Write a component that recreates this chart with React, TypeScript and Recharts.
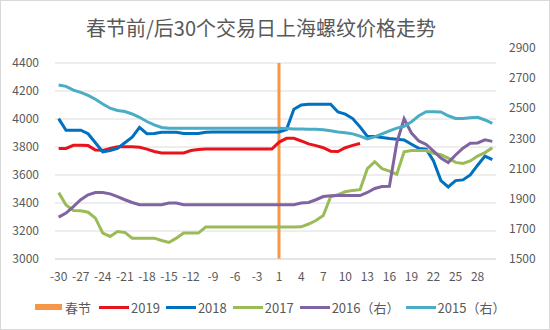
import React from 'react'
import {
  ComposedChart,
  Line,
  Bar,
  XAxis,
  YAxis,
  CartesianGrid,
  Legend,
} from 'recharts'

const FONT = '"Noto Sans CJK SC", "Noto Sans", sans-serif'
const TEXT = '#595959'

// trading days around Spring Festival (no day 0)
const days = [
  -30, -29, -28, -27, -26, -25, -24, -23, -22, -21, -20, -19, -18, -17, -16,
  -15, -14, -13, -12, -11, -10, -9, -8, -7, -6, -5, -4, -3, -2, -1,
  1, 2, 3, 4, 5, 6, 7, 8, 9, 10, 11, 12, 13, 14, 15,
  16, 17, 18, 19, 20, 21, 22, 23, 24, 25, 26, 27, 28, 29, 30,
]

const springFestivalDay = 1
const springFestivalValue = 4400

const y2019 = [
  3790, 3790, 3812, 3813, 3810, 3778, 3776, 3790, 3801, 3801, 3801, 3798, 3785, 3768, 3758,
  3758, 3758, 3758, 3775, 3782, 3785, 3785, 3785, 3785, 3785, 3785, 3785, 3785, 3785, 3785,
  3835, 3862, 3862, 3843, 3822, 3810, 3795, 3770, 3768, 3795, 3812, 3825,
]

const y2018 = [
  4003, 3920, 3920, 3920, 3895, 3830, 3765, 3775, 3790, 3830, 3870, 3940, 3895, 3897, 3905,
  3905, 3905, 3897, 3897, 3897, 3905, 3908, 3908, 3908, 3908, 3908, 3908, 3908, 3908, 3908,
  3908, 3925, 4070, 4100, 4105, 4105, 4105, 4105, 4050, 4035, 4003, 3944, 3875, 3875, 3868,
  3860, 3855, 3850, 3820, 3790, 3785, 3700, 3560, 3515, 3560, 3565, 3600, 3670, 3735, 3710,
]

const y2017 = [
  3474, 3386, 3346, 3344, 3334, 3292, 3185, 3161, 3196, 3190, 3149, 3149, 3149, 3149, 3132,
  3118, 3149, 3185, 3185, 3185, 3228, 3228, 3228, 3228, 3228, 3228, 3228, 3228, 3228, 3228,
  3228, 3228, 3228, 3230, 3250, 3275, 3310, 3445, 3460, 3480, 3490, 3495, 3645, 3695, 3645,
  3628, 3605, 3765, 3775, 3775, 3775, 3755, 3745, 3720, 3690, 3683, 3700, 3735, 3760, 3795,
]

// right axis
const y2016 = [
  1778, 1805, 1848, 1893, 1926, 1941, 1941, 1932, 1914, 1893, 1875, 1860, 1860, 1860, 1860,
  1871, 1871, 1860, 1860, 1860, 1860, 1860, 1860, 1860, 1860, 1860, 1860, 1860, 1860, 1860,
  1860, 1860, 1860, 1871, 1875, 1893, 1914, 1920, 1921, 1921, 1921, 1921, 1941, 1968, 1981,
  1983, 2270, 2430, 2335, 2283, 2260, 2215, 2170, 2140, 2190, 2235, 2268, 2270, 2290, 2280,
]

const y2015 = [
  2654, 2645, 2620, 2605, 2585, 2560, 2528, 2500, 2485, 2478, 2462, 2440, 2412, 2390, 2372,
  2367, 2367, 2367, 2367, 2367, 2367, 2367, 2367, 2367, 2367, 2367, 2367, 2367, 2367, 2367,
  2367, 2365, 2363, 2362, 2361, 2360, 2357, 2350, 2342, 2337, 2330, 2315, 2296, 2310, 2330,
  2350, 2368, 2380, 2410, 2450, 2477, 2477, 2475, 2450, 2432, 2432, 2437, 2440, 2422, 2400,
]

const leftTicks = [3000, 3200, 3400, 3600, 3800, 4000, 4200, 4400]
const rightTicks = [1500, 1700, 1900, 2100, 2300, 2500, 2700, 2900]

const data = days.map((d, i) => ({
  day: d,
  spring: d === springFestivalDay ? springFestivalValue : null,
  y2019: y2019[i] ?? null,
  y2018: y2018[i],
  y2017: y2017[i],
  y2016: y2016[i],
  y2015: y2015[i],
}))

const series = [
  { key: 'y2019', name: '2019', color: '#E8141B', axis: 'left' },
  { key: 'y2018', name: '2018', color: '#0070C0', axis: 'left' },
  { key: 'y2017', name: '2017', color: '#9BBB59', axis: 'left' },
  { key: 'y2016', name: '2016（右）', color: '#8064A2', axis: 'right' },
  { key: 'y2015', name: '2015（右）', color: '#4BACC6', axis: 'right' },
]

const renderLegend = () => (
  <div
    style={{
      display: 'flex',
      alignItems: 'center',
      height: 20,
      paddingLeft: 35,
      fontFamily: FONT,
      fontSize: 13,
      color: TEXT,
      whiteSpace: 'nowrap',
    }}
  >
    <span style={{ display: 'flex', alignItems: 'center', marginRight: 8 }}>
      <span style={{ width: 27, height: 6, background: '#F79646', marginRight: 3 }} />
      春节
    </span>
    {series.map((s) => (
      <span key={s.key} style={{ display: 'flex', alignItems: 'center', marginRight: 6 }}>
        <span style={{ width: 30, height: 3, background: s.color, marginRight: 2 }} />
        {s.name}
      </span>
    ))}
  </div>
)

export default function App() {
  return (
    <div
      style={{
        position: 'absolute',
        left: 0,
        top: 0,
        width: 550,
        height: 330,
        background: '#fff',
        boxSizing: 'border-box',
        border: '1px solid #d9d9d9',
      }}
    >
      <div
        style={{
          position: 'absolute',
          top: 13,
          left: 0,
          width: 520,
          textAlign: 'center',
          fontFamily: FONT,
          fontSize: 20,
          color: TEXT,
          lineHeight: '28px',
        }}
      >
        春节前/后30个交易日上海螺纹价格走势
      </div>
      <ComposedChart
        width={548}
        height={328}
        data={data}
        margin={{ top: 62, right: 0, bottom: 12, left: -1 }}
        barCategoryGap={0}
      >
        <CartesianGrid vertical={false} stroke="#dcdcdc" yAxisId="left" />
        <XAxis
          dataKey="day"
          interval={2}
          height={38}
          tickLine={false}
          tickSize={0}
          tickMargin={13}
          axisLine={{ stroke: '#dcdcdc' }}
          tick={{ fill: TEXT, fontSize: 12, fontFamily: FONT }}
        />
        <YAxis
          yAxisId="left"
          width={55}
          domain={[3000, 4400]}
          ticks={leftTicks}
          interval={0}
          axisLine={false}
          tickLine={false}
          tickSize={0}
          tickMargin={16}
          tick={{ fill: TEXT, fontSize: 12, fontFamily: FONT }}
        />
        <YAxis
          yAxisId="right"
          orientation="right"
          width={53}
          domain={[1500, 2800]}
          allowDataOverflow
          ticks={rightTicks}
          interval={0}
          axisLine={false}
          tickLine={false}
          tickSize={0}
          tickMargin={13}
          tick={{ fill: TEXT, fontSize: 12, fontFamily: FONT }}
        />
        <Bar
          yAxisId="left"
          dataKey="spring"
          name="春节"
          fill="#F79646"
          barSize={3}
          isAnimationActive={false}
        />
        {series.map((s) => (
          <Line
            key={s.key}
            yAxisId={s.axis}
            dataKey={s.key}
            name={s.name}
            stroke={s.color}
            strokeWidth={3}
            dot={false}
            type="linear"
            isAnimationActive={false}
          />
        ))}
        <Legend verticalAlign="bottom" content={renderLegend} />
      </ComposedChart>
    </div>
  )
}
